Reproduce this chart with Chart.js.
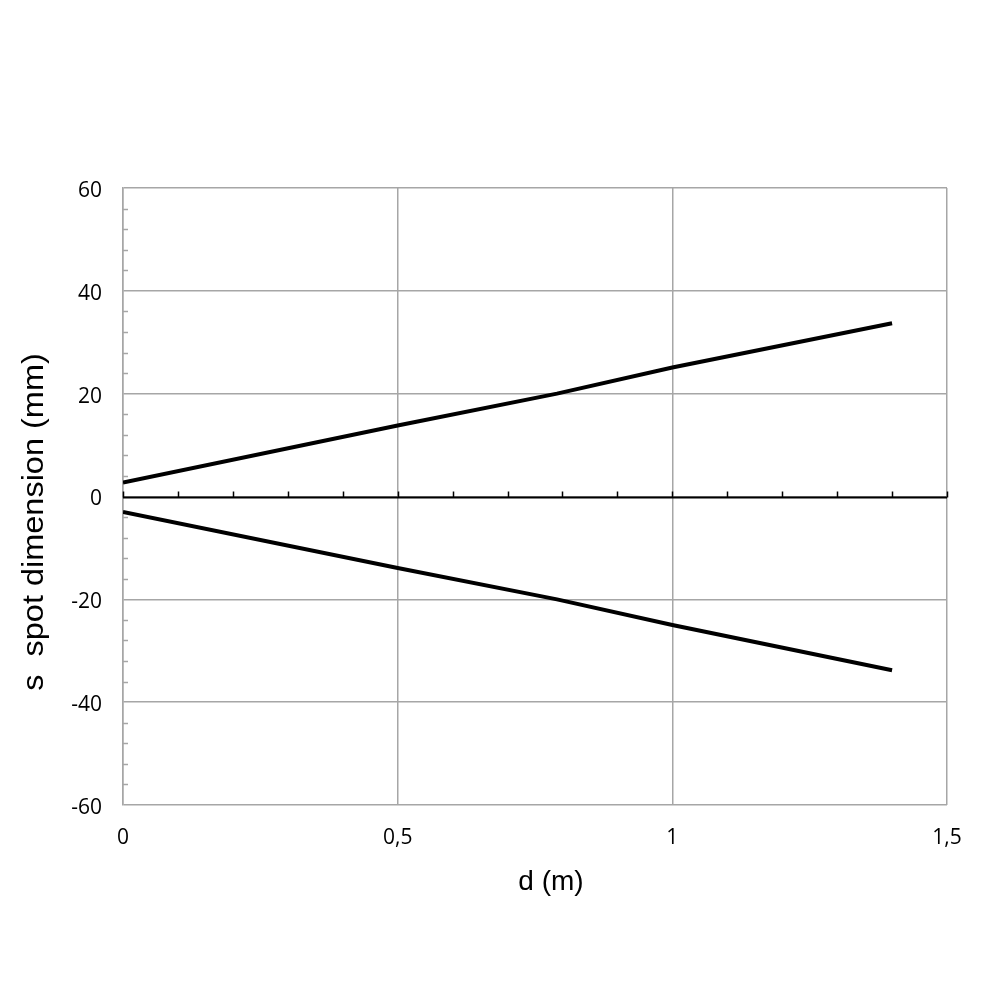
<!DOCTYPE html>
<html>
<head>
<meta charset="utf-8">
<script src="https://cdn.jsdelivr.net/npm/chart.js@4"></script>
<style>
  html, body { margin: 0; padding: 0; background: #fff; }
  #wrap { width: 1000px; height: 1000px; }
</style>
</head>
<body>
<div id="wrap"><canvas id="chart1" width="1000" height="1000"></canvas></div>
<script>
// values
const distance = [0, 0.5, 0.79, 1, 1.4];
const upperSpot = [2.7, 13.8, 20, 25.1, 33.7];
const lowerSpot = [-3.0, -13.9, -20, -25.0, -33.8];

const xTicks = [0, 0.5, 1, 1.5];
const yTicks = [-60, -40, -20, 0, 20, 40, 60];

const gridColor = '#a6a6a6';

function toPoints(xs, ys) {
    return xs.map(function (x, i) { return { x: x, y: ys[i] }; });
}

// zero axis with its minor ticks, minor ticks on the left axis, axis titles
const decorations = {
    id: 'decorations',
    beforeDatasetsDraw: function (chart) {
        const ctx = chart.ctx;
        const x = chart.scales.x;
        const y = chart.scales.y;
        const area = chart.chartArea;
        const y0 = Math.round(y.getPixelForValue(0)) + 0.5;

        ctx.save();
        // minor ticks on y axis, every 4 units
        ctx.strokeStyle = gridColor;
        ctx.lineWidth = 1.5;
        ctx.beginPath();
        for (let v = -56; v < 60; v += 4) {
            if (v % 20 === 0) continue;
            const py = Math.round(y.getPixelForValue(v)) + 0.5;
            ctx.moveTo(area.left, py);
            ctx.lineTo(area.left + 5, py);
        }
        ctx.stroke();

        // horizontal axis through zero
        ctx.strokeStyle = '#000';
        ctx.lineWidth = 2;
        ctx.beginPath();
        ctx.moveTo(area.left, y0);
        ctx.lineTo(area.right, y0);
        ctx.stroke();

        ctx.lineWidth = 1.5;
        ctx.beginPath();
        for (let i = 0; i <= 15; i++) {
            const px = Math.round(x.getPixelForValue(i / 10)) + 0.5;
            ctx.moveTo(px, y0);
            ctx.lineTo(px, y0 - 6);
        }
        ctx.stroke();
        ctx.restore();
    },
    afterDraw: function (chart) {
        const ctx = chart.ctx;
        ctx.save();
        ctx.fillStyle = '#000';
        ctx.textAlign = 'center';
        ctx.textBaseline = 'middle';
        ctx.font = '28px "Liberation Sans", Arial, sans-serif';
        ctx.fillText('d (m)', 551, 882);

        ctx.font = '29px "Liberation Sans", Arial, sans-serif';
        ctx.translate(35, 522);
        ctx.rotate(-Math.PI / 2);
        ctx.scale(1.12, 1);
        ctx.fillText('s  spot dimension (mm)', 0, 0);
        ctx.restore();
    }
};

const ctx = document.getElementById('chart1').getContext('2d');
const chart1 = new Chart(ctx, {
    type: 'scatter',
    data: {
        datasets: [
            {
                label: 'upper',
                data: toPoints(distance, upperSpot),
                showLine: true,
                borderColor: '#000',
                borderWidth: 4,
                pointRadius: 0,
                tension: 0
            },
            {
                label: 'lower',
                data: toPoints(distance, lowerSpot),
                showLine: true,
                borderColor: '#000',
                borderWidth: 4,
                pointRadius: 0,
                tension: 0
            }
        ]
    },
    options: {
        responsive: false,
        animation: false,
        devicePixelRatio: 1,
        layout: {
            padding: { top: 188, right: 53, bottom: 0, left: 0 }
        },
        plugins: {
            legend: { display: false },
            tooltip: { enabled: false }
        },
        scales: {
            x: {
                type: 'linear',
                min: 0,
                max: 1.5,
                afterFit: function (scale) { scale.height = 195; },
                afterBuildTicks: function (scale) {
                    scale.ticks = xTicks.map(function (v) { return { value: v }; });
                },
                grid: {
                    color: gridColor,
                    lineWidth: 1.5,
                    drawTicks: false
                },
                border: { display: false },
                ticks: {
                    padding: 20,
                    color: '#000',
                    font: { family: '"Open Sans", sans-serif', size: 21 },
                    callback: function (value) {
                        return String(value).replace('.', ',');
                    }
                }
            },
            y: {
                type: 'linear',
                min: -60,
                max: 60,
                afterFit: function (scale) { scale.width = 123; },
                afterBuildTicks: function (scale) {
                    scale.ticks = yTicks.map(function (v) { return { value: v }; });
                },
                grid: {
                    color: gridColor,
                    lineWidth: 1.5,
                    drawTicks: false
                },
                border: { display: true, color: gridColor, width: 1.5 },
                ticks: {
                    padding: 21,
                    labelOffset: 3,
                    color: '#000',
                    font: { family: '"Open Sans", sans-serif', size: 21 }
                }
            }
        }
    },
    plugins: [decorations]
});
</script>
</body>
</html>
